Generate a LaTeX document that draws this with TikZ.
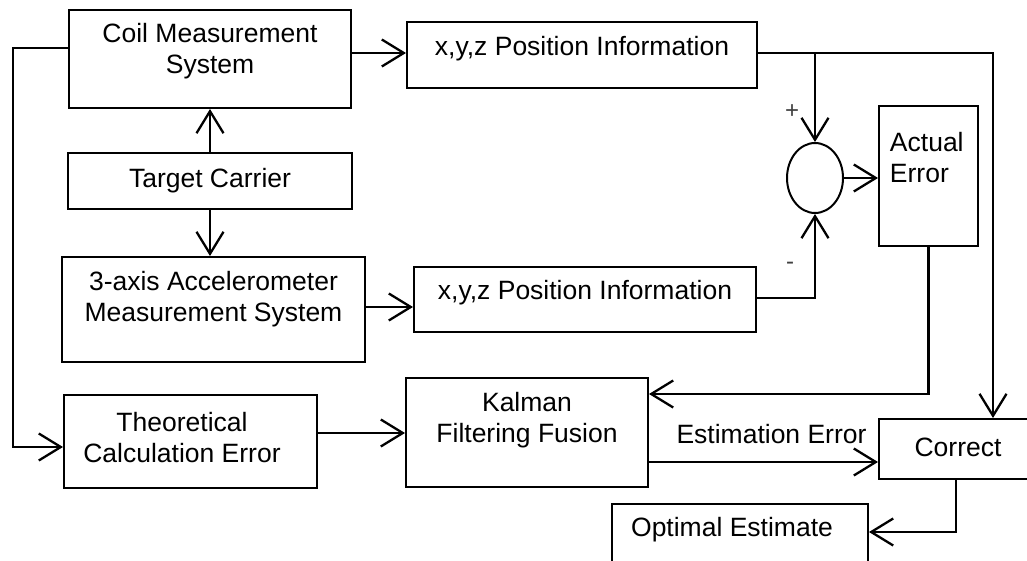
\documentclass[tikz,border=0pt]{standalone}
\usepackage{fontspec}
\setmainfont{Liberation Sans}
\usetikzlibrary{arrows.meta,shapes.geometric}
\begin{document}
\begin{tikzpicture}[x=1pt,y=-1pt,
  box/.style={draw,line width=2pt,inner sep=0pt,rectangle},
  txt/.style={font=\fontsize{26.5}{31}\selectfont,align=center,inner sep=0pt},
  sgn/.style={font=\fontsize{24}{28}\selectfont,text=black!75,inner sep=0pt},
  arr/.style={line width=2.3pt,-{Straight Barb[length=22pt,width=27pt]}},
  ln/.style={line width=2.3pt}]
\useasboundingbox (0,0) rectangle (1027,561);
\clip (0,0) rectangle (1027,561);
% boxes
\node[box,minimum width=282pt,minimum height=98pt,
  label={[txt,yshift=8pt]center:{Coil Measurement\\System}}] (coil) at (210,59) {};
\node[box,minimum width=284pt,minimum height=56pt,
  label={[txt]center:{Target Carrier}}] (target) at (210,181) {};
\node[box,minimum width=303pt,minimum height=105pt,
  label={[txt,yshift=10.5pt]center:{3-axis Accelerometer\\Measurement System}}] (acc) at (213.5,309.5) {};
\node[box,minimum width=350pt,minimum height=66pt,
  label={[txt,yshift=6pt]center:{x,y,z Position Information}}] (pos1) at (582,55) {};
\node[box,minimum width=342pt,minimum height=65pt,
  label={[txt,yshift=6.5pt]center:{x,y,z Position Information}}] (pos2) at (585,299.5) {};
\node[draw,ellipse,line width=2pt,minimum width=56pt,minimum height=70pt,inner sep=0pt] (sum) at (815,178) {};
\node[box,minimum width=99pt,minimum height=140pt,
  label={[txt,align=left,xshift=-1.7pt,yshift=18.5pt]center:{Actual\\Error}}] (actual) at (928.5,176) {};
\node[box,minimum width=253pt,minimum height=93pt,
  label={[txt,xshift=-8.5pt,yshift=3.5pt]center:{Theoretical\\Calculation Error}}] (theo) at (190.5,441.5) {};
\node[box,minimum width=242pt,minimum height=109pt,
  label={[txt,yshift=12.5pt]center:{Kalman\\Filtering Fusion}}] (kalman) at (527,432.5) {};
\node[box,minimum width=162pt,minimum height=60pt,
  label={[txt,xshift=-2pt,yshift=2pt]center:{Correct}}] (correct) at (960,449) {};
\node[box,minimum width=256pt,minimum height=71pt,
  label={[txt,xshift=-8pt,yshift=9.5pt]center:{Optimal Estimate}}] (optimal) at (740,539.5) {};
% text labels
\node[txt] (esterr) at (771.5,434) {Estimation Error};
\node[sgn] (plus) at (792,112) {+};
\node[sgn] (minus) at (790,266) {-};
% coordinates
\coordinate (lft) at (13,447);
\coordinate (tr) at (993,53);
% connectors
\draw[arr] ([yshift=6pt]coil.east) -- ([yshift=6pt]coil.east -| pos1.west);
\draw[arr] (target.north) -- (coil.south);
\draw[arr] (target.south) -- (target.south |- acc.north);
\draw[arr] ([yshift=11pt]coil.west) -| (lft) -- (lft -| theo.west);
\draw[arr] ([yshift=2.5pt]acc.east) -- ([yshift=2.5pt]acc.east -| pos2.west);
\draw[arr] ([yshift=2pt]pos1.east) -- (tr) -- (tr |- correct.north);
\draw[arr] (sum.north |- tr) -- (sum.north);
\draw[arr] ([yshift=1.5pt]pos2.east) -| (sum.south);
\draw[arr] (sum.east) -- (sum.east -| actual.west);
\draw[arr] (actual.south) |- ([yshift=38.5pt]kalman.east);
\draw[arr] ([yshift=8.5pt]theo.east) -- ([yshift=8.5pt]theo.east -| kalman.west);
\draw[arr] ([yshift=-29.5pt]kalman.east) -- ([yshift=-29.5pt]kalman.east -| correct.west);
\draw[arr] ([xshift=-4pt]correct.south) |- ([yshift=7.5pt]optimal.east);
\end{tikzpicture}
\end{document}
